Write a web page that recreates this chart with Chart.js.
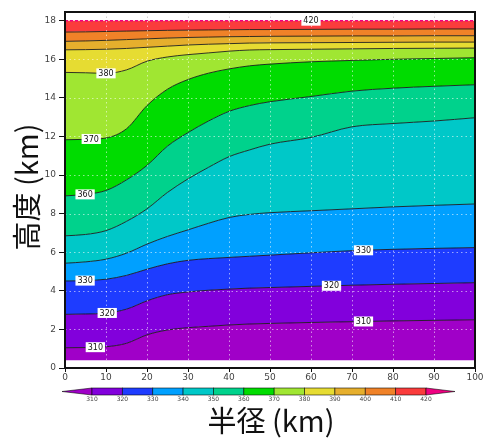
<!DOCTYPE html>
<html>
<head>
<meta charset="utf-8">
<script src="https://cdn.jsdelivr.net/npm/chart.js@4.4.1/dist/chart.umd.min.js"></script>
<style>
  html, body { margin: 0; padding: 0; background: #fff; }
  canvas { display: block; }
</style>
</head>
<body>
<canvas id="chart" width="486" height="439"></canvas>
<script>
// Radius grid (km) shared by every contour line
const radiusKm = [0, 5, 10, 15, 20, 25, 30, 35, 40, 45, 50, 60, 70, 80, 90, 100];

// Height (km) of each potential-temperature contour (K) along the radius grid
const th310 = [1.05, 1.06, 1.10, 1.28, 1.72, 1.97, 2.09, 2.16, 2.23, 2.28, 2.31, 2.36, 2.40, 2.44, 2.47, 2.50];
const th320 = [2.78, 2.80, 2.84, 3.05, 3.48, 3.80, 3.94, 4.03, 4.09, 4.14, 4.17, 4.23, 4.29, 4.34, 4.38, 4.42];
const th330 = [4.51, 4.53, 4.60, 4.80, 5.12, 5.40, 5.58, 5.67, 5.73, 5.79, 5.85, 5.97, 6.08, 6.15, 6.20, 6.24];
const th340 = [5.43, 5.50, 5.64, 5.95, 6.42, 6.82, 7.16, 7.50, 7.80, 7.96, 8.05, 8.15, 8.25, 8.35, 8.43, 8.50];
const th350 = [6.85, 6.92, 7.12, 7.60, 8.25, 9.10, 9.80, 10.40, 10.95, 11.30, 11.60, 11.95, 12.50, 12.67, 12.80, 12.97];
const th360 = [8.92, 9.00, 9.20, 9.75, 10.50, 11.50, 12.20, 12.80, 13.30, 13.60, 13.80, 14.07, 14.35, 14.50, 14.60, 14.68];
const th370 = [11.83, 11.85, 11.92, 12.40, 13.60, 14.45, 14.95, 15.28, 15.50, 15.66, 15.75, 15.87, 15.94, 16.00, 16.04, 16.08];
const th380 = [15.32, 15.30, 15.27, 15.45, 15.90, 16.12, 16.24, 16.33, 16.42, 16.48, 16.50, 16.52, 16.54, 16.56, 16.57, 16.58];
const th390 = [16.49, 16.50, 16.52, 16.56, 16.62, 16.68, 16.74, 16.78, 16.81, 16.84, 16.85, 16.86, 16.87, 16.88, 16.89, 16.89];
const th400 = [16.93, 16.95, 16.98, 17.02, 17.06, 17.10, 17.13, 17.15, 17.17, 17.18, 17.19, 17.20, 17.21, 17.21, 17.22, 17.22];
const th410 = [17.41, 17.42, 17.44, 17.46, 17.48, 17.50, 17.51, 17.52, 17.53, 17.54, 17.54, 17.55, 17.56, 17.56, 17.57, 17.57];
const th420 = [18, 18, 18, 18, 18, 18, 18, 18, 18, 18, 18, 18, 18, 18, 18, 18];

// Lowest height of the analysed field (km)
const fieldBottom = [0.4, 0.4, 0.4, 0.4, 0.4, 0.4, 0.4, 0.4, 0.4, 0.4, 0.4, 0.4, 0.4, 0.4, 0.4, 0.4];

// Contour levels (K) and shading colours: below 310, each 10 K band, above 420
const levels = [310, 320, 330, 340, 350, 360, 370, 380, 390, 400, 410, 420];
const bandColors = [
  'rgb(160,0,200)', 'rgb(130,0,220)', 'rgb(30,60,255)', 'rgb(0,160,255)',
  'rgb(0,200,200)', 'rgb(0,210,140)', 'rgb(0,220,0)', 'rgb(160,230,50)',
  'rgb(230,220,50)', 'rgb(230,175,45)', 'rgb(240,130,40)', 'rgb(250,60,60)',
  'rgb(240,0,130)'
];

// Inline contour labels: level and radius (km) where each label sits
const labelLevels = [310, 320, 330, 360, 370, 380, 420, 330, 320, 310];
const labelRadius = [7.4, 10.3, 4.9, 4.9, 6.4, 10.0, 60.0, 72.8, 65.0, 72.8];

// Axis ticks
const xTicks = [0, 10, 20, 30, 40, 50, 60, 70, 80, 90, 100];
const yTicks = [0, 2, 4, 6, 8, 10, 12, 14, 16, 18];

const contours = [th310, th320, th330, th340, th350, th360, th370, th380, th390, th400, th410, th420];

function heightAt(line, r) {
  for (let j = 0; j < radiusKm.length - 1; j++) {
    if (r >= radiusKm[j] && r <= radiusKm[j + 1]) {
      const t = (r - radiusKm[j]) / (radiusKm[j + 1] - radiusKm[j]);
      return line[j] + t * (line[j + 1] - line[j]);
    }
  }
  return line[line.length - 1];
}

const datasets = [{
  data: radiusKm.map((x, j) => ({ x, y: fieldBottom[j] })),
  borderWidth: 0,
  pointRadius: 0,
  fill: false
}];
contours.forEach((line, i) => {
  const top = levels[i] === 420;
  datasets.push({
    data: radiusKm.map((x, j) => ({ x, y: line[j] })),
    borderColor: top ? bandColors[12] : 'rgba(20,20,20,0.85)',
    borderWidth: top ? 1.6 : 1,
    borderDash: top ? [3, 2] : [],
    backgroundColor: bandColors[i],
    fill: '-1',
    pointRadius: 0,
    cubicInterpolationMode: 'monotone'
  });
});

const decorations = {
  id: 'decorations',
  afterDatasetsDraw(chart) {
    // dotted grid over the shading
    const { ctx, chartArea: a, scales } = chart;
    ctx.save();
    ctx.lineWidth = 1;
    ctx.setLineDash([1.5, 3]);
    ctx.strokeStyle = 'rgba(255,255,255,0.55)';
    xTicks.slice(1, -1).forEach(v => {
      const px = Math.round(scales.x.getPixelForValue(v)) + 0.5;
      ctx.beginPath(); ctx.moveTo(px, a.top); ctx.lineTo(px, a.bottom); ctx.stroke();
    });
    yTicks.slice(1, -1).forEach(v => {
      const py = Math.round(scales.y.getPixelForValue(v)) + 0.5;
      ctx.beginPath(); ctx.moveTo(a.left, py); ctx.lineTo(a.right, py); ctx.stroke();
    });
    // light marks where the grid crosses the blank strip above the field
    ctx.strokeStyle = 'rgba(190,190,190,0.7)';
    const yTop = scales.y.getPixelForValue(18);
    xTicks.slice(1, -1).forEach(v => {
      const px = Math.round(scales.x.getPixelForValue(v)) + 0.5;
      ctx.beginPath(); ctx.moveTo(px, a.top); ctx.lineTo(px, yTop); ctx.stroke();
    });
    ctx.restore();
  },
  afterDraw(chart) {
    const { ctx, chartArea: a, scales } = chart;
    const xs = scales.x, ys = scales.y;

    // contour labels
    ctx.save();
    ctx.font = '8px "DejaVu Sans", sans-serif';
    ctx.textAlign = 'center';
    ctx.textBaseline = 'middle';
    labelLevels.forEach((lev, k) => {
      const line = contours[levels.indexOf(lev)];
      const r = labelRadius[k];
      const px = xs.getPixelForValue(r);
      const py = ys.getPixelForValue(heightAt(line, r));
      const txt = String(lev);
      const w = ctx.measureText(txt).width + 4;
      ctx.fillStyle = '#fff';
      ctx.fillRect(px - w / 2, py - 5, w, 10);
      ctx.fillStyle = '#111';
      ctx.fillText(txt, px, py + 0.5);
    });
    ctx.restore();

    // frame
    ctx.save();
    ctx.strokeStyle = '#111';
    ctx.lineWidth = 2;
    ctx.strokeRect(a.left, a.top, a.right - a.left, a.bottom - a.top);
    ctx.restore();

    // colour bar
    const cbLeft = 62, cbStart = 92, cbEnd = 426, cbRight = 455, cbTop = 388, cbH = 7;
    const segW = (cbEnd - cbStart) / (levels.length - 1);
    ctx.save();
    ctx.lineWidth = 0.8;
    ctx.strokeStyle = 'rgba(0,0,0,0.7)';
    ctx.beginPath();
    ctx.moveTo(cbStart, cbTop);
    ctx.lineTo(cbLeft, cbTop + cbH / 2);
    ctx.lineTo(cbStart, cbTop + cbH);
    ctx.closePath();
    ctx.fillStyle = bandColors[0];
    ctx.fill();
    ctx.stroke();
    for (let i = 0; i < levels.length - 1; i++) {
      const x0 = cbStart + i * segW;
      ctx.fillStyle = bandColors[i + 1];
      ctx.fillRect(x0, cbTop, segW, cbH);
      ctx.strokeRect(x0, cbTop, segW, cbH);
    }
    ctx.beginPath();
    ctx.moveTo(cbEnd, cbTop);
    ctx.lineTo(cbRight, cbTop + cbH / 2);
    ctx.lineTo(cbEnd, cbTop + cbH);
    ctx.closePath();
    ctx.fillStyle = bandColors[12];
    ctx.fill();
    ctx.stroke();
    ctx.fillStyle = '#444';
    ctx.font = '6px "DejaVu Sans", sans-serif';
    ctx.textAlign = 'center';
    ctx.textBaseline = 'middle';
    levels.forEach((lev, i) => ctx.fillText(String(lev), cbStart + i * segW, 399.5));
    ctx.restore();

    // axis titles
    ctx.save();
    ctx.fillStyle = '#111';
    ctx.font = '29px "Noto Sans CJK JP", sans-serif';
    ctx.textAlign = 'center';
    ctx.textBaseline = 'middle';
    ctx.fillText('半径 (km)', 271, 421);
    ctx.translate(27, 187);
    ctx.rotate(-Math.PI / 2);
    ctx.fillText('高度 (km)', 0, 0);
    ctx.restore();
  }
};

new Chart(document.getElementById('chart'), {
  type: 'line',
  data: { datasets },
  options: {
    responsive: false,
    animation: false,
    events: [],
    layout: { padding: { left: 0, top: 12, right: 11, bottom: 52 } },
    plugins: {
      legend: { display: false },
      tooltip: { enabled: false },
      filler: { drawTime: 'beforeDatasetsDraw' }
    },
    scales: {
      x: {
        type: 'linear',
        min: 0, max: 100,
        afterFit: s => { s.height = 19; },
        afterBuildTicks: s => { s.ticks = xTicks.map(v => ({ value: v })); },
        grid: { drawOnChartArea: false, tickColor: '#111', tickLength: 4 },
        border: { display: false },
        ticks: { color: '#444', padding: 0, maxRotation: 0, font: { family: 'DejaVu Sans', size: 9 } }
      },
      y: {
        type: 'linear',
        min: 0, max: 18.45,
        afterFit: s => { s.width = 65; },
        afterBuildTicks: s => { s.ticks = yTicks.map(v => ({ value: v })); },
        grid: { drawOnChartArea: false, tickColor: '#111', tickLength: 6 },
        border: { display: false },
        ticks: { color: '#444', padding: 3, font: { family: 'DejaVu Sans', size: 9 } }
      }
    }
  },
  plugins: [decorations]
});
</script>
</body>
</html>
